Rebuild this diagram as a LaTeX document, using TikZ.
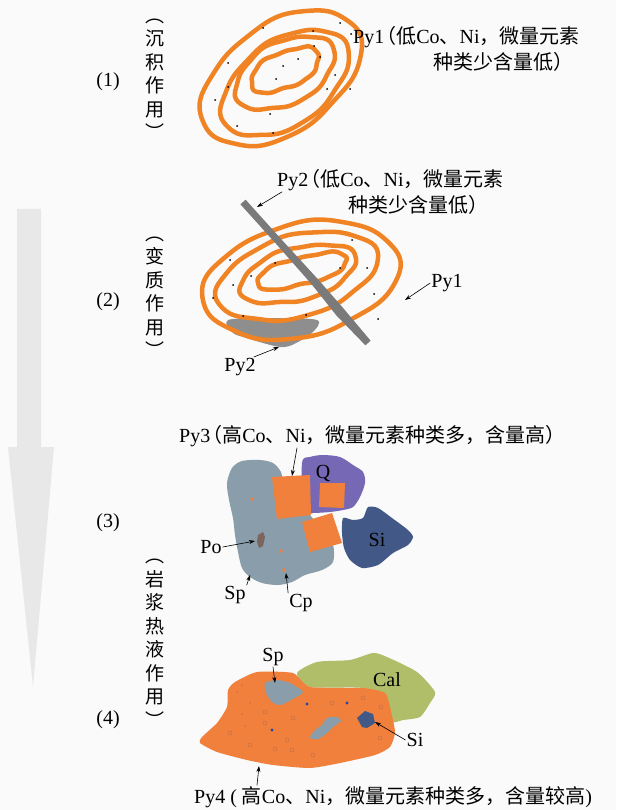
\documentclass[tikz,border=0pt]{standalone}
\usepackage{fontspec}
\setmainfont{Liberation Serif}
\newfontfamily\cjk{Noto Sans CJK SC}
\newcommand{\zh}[1]{{\cjk #1}}
\newcommand{\lp}{\zh{\kern-0.4em（}}
\usetikzlibrary{arrows.meta,calc}
\definecolor{bgcol}{RGB}{250,250,250}
\definecolor{flowgray}{RGB}{232,232,232}
\definecolor{ringorange}{RGB}{240,132,36}
\definecolor{veingray}{RGB}{122,122,122}
\definecolor{rimgray}{RGB}{142,142,142}
\definecolor{pyorange}{RGB}{240,128,60}
\definecolor{spgray}{RGB}{137,158,170}
\definecolor{qpurple}{RGB}{118,104,180}
\definecolor{siblue}{RGB}{66,88,135}
\definecolor{pobrown}{RGB}{125,100,95}
\definecolor{calgreen}{RGB}{176,190,106}
\definecolor{dotblue}{RGB}{40,70,160}
\definecolor{holebrown}{RGB}{196,112,74}
\begin{document}
\begin{tikzpicture}[x=1pt,y=-1pt,>={Stealth[length=6pt,width=4pt]},line join=round,line cap=round,
	every node/.style={inner sep=1pt,font=\fontsize{20}{22}\selectfont},
	ring/.style={draw=ringorange,line width=4.5pt},
	pnt/.style={->,line width=0.6pt},
	vtext/.style={font=\cjk\fontsize{19}{23.5}\selectfont,align=center,inner sep=0pt},
	declare function={wob(\t,\p)=1.2*sin(4*\t+\p)+0.6*sin(9*\t+2*\p);}]
	\fill[bgcol] (0,0) rectangle (616,810);
	\useasboundingbox (0,0) rectangle (616,810);
	% big arrow on the left
	\fill[flowgray] (17,209) -- (41,209) -- (41,447) -- (54,447) -- (33,687) -- (8,447) -- (17,447) -- cycle;
	\path
	(257,207) coordinate (vtop)
	(405,300) coordinate (rimR)
	(279,347) coordinate (rimB)
	(292,476) coordinate (sqT)
	(255,541) coordinate (poT)
	(250,575) coordinate (spT)
	(286,573) coordinate (cpT)
	(275,683) coordinate (sp4T)
	(375,722) coordinate (si4T)
	(259,766) coordinate (py4T);
	% (1) sedimentary rings
	\foreach \cx/\cy/\rx/\ry/\rot/\ph in {281/78/90/54/35/0,285/83/72/42/35/60,285/73/54/31/28/120,285/70/37/18/25/200}
	\draw[ring,shift={(\cx,\cy)},rotate=\rot] plot[smooth cycle,domain=0:355,samples=72] ({(\rx+wob(\x,\ph))*cos(\x)},{(\ry+wob(\x,\ph))*sin(\x)});
	\foreach \p in {(263,28),(340,23),(313,31),(351,34),(314,46),(320,57),(298,59),(283,66),(228,63),(276,79),(335,75),(228,87),(327,89),(350,89),(215,100),(270,114),(237,126),(273,133)}
	\fill \p circle (1pt);
	% (2) metamorphic overprint
	\fill[rimgray] plot[smooth cycle,tension=0.5] coordinates {(228,320) (270,318) (317,320) (312,333) (292,345) (280,347) (263,343) (247,338) (233,333)};
	\foreach \cx/\cy/\rx/\ry/\rot/\ph in {301/280/100/56/13/30,297/276/83/40/16/90,298/274/60/26/16/150,302/271/47/14/15/240}
	\draw[ring,shift={(\cx,\cy)},rotate=\rot] plot[smooth cycle,domain=0:355,samples=72] ({(\rx+wob(\x,\ph))*cos(\x)},{(\ry+wob(\x,\ph))*sin(\x)});
	\foreach \p in {(352,240),(230,260),(275,263),(340,268),(367,268),(251,276),(233,285),(213,298),(374,294),(243,316),(306,315),(378,319)}
	\fill \p circle (1pt);
	\fill[veingray] (245.6,199.7) -- (282.6,240.7) -- (318,279.3) -- (343.7,308.7) -- (370.6,340.7)
	-- (365.4,345.3) -- (336.3,315.3) -- (312,284.7) -- (277.4,245.3) -- (240.4,204.3) -- cycle;
	% (3) magmatic-hydrothermal assemblage
	\fill[spgray] plot[smooth cycle] coordinates {(227,483) (232,468) (242,461) (260,460) (273,463) (281,472) (284,485) (296,500) (310,515) (322,530) (333,545) (333,562) (322,570) (305,575) (292,582) (278,585) (262,583) (250,577) (242,568) (238,552) (235,535) (233,518) (229,500)};
	\fill[qpurple] plot[smooth cycle,tension=0.5] coordinates {(302,463) (310,457) (323,455) (340,457) (353,465) (363,472) (365,483) (360,497) (353,507) (343,510) (330,512) (313,513) (303,512)};
	\fill[siblue] plot[smooth cycle,tension=0.4] coordinates {(343,518) (353,520) (363,518) (368,507) (378,508) (392,518) (408,530) (413,537) (408,545) (393,553) (378,565) (362,568) (350,560) (344,548) (342,533)};
	\fill[pyorange] (272,477) -- (310,475) -- (311,515) -- (277,519) -- cycle;
	\fill[pyorange] (320,483) -- (345,483) -- (344,508) -- (319,507) -- cycle;
	\fill[pyorange] (302,522) -- (332,513) -- (342,543) -- (310,552) -- cycle;
	\fill[pobrown] (258,535) -- (263,532) -- (265,537) -- (263,546) -- (259,548) -- (257,542) -- cycle;
	\foreach \p in {(252,499),(281,551),(284,570)}
	\fill[pyorange] \p circle (1.8pt);
	% (4) late pyrite with calcite
	\fill[calgreen] plot[smooth cycle,tension=0.4] coordinates {(297,673) (317,662) (350,660) (373,653) (387,657) (417,672) (435,692) (430,703) (420,717) (403,720) (390,722) (385,700) (363,688) (310,687)};
	\fill[pyorange] plot[smooth cycle,tension=0.35] coordinates {(228,690) (235,682) (257,672) (293,673) (310,687) (363,688) (385,693) (390,707) (395,732) (390,747) (375,755) (340,763) (310,768) (273,765) (247,760) (217,752) (200,743) (202,737) (217,723) (227,707)};
	\fill[spgray] plot[smooth cycle,tension=0.4] coordinates {(265,683) (277,680) (290,683) (303,692) (293,699) (280,705) (272,702) (266,693)};
	\fill[spgray] plot[smooth cycle,tension=0.4] coordinates {(327,718) (337,717) (341,721) (333,727) (327,733) (318,739) (310,738) (314,731) (322,725)};
	\fill[siblue] (357,718) -- (365,711) -- (373,714) -- (375,723) -- (367,728) -- (362,727) -- cycle;
	\foreach \p in {(307,704),(347,703),(272,730)}
	\fill[dotblue] \p circle (1.6pt);
	\foreach \p in {(332,703),(363,698),(381,707),(265,712),(293,718),(265,723),(230,733),(250,745),(275,749),(287,740),(292,750),(313,755),(380,738)}
	\draw[holebrown,line width=0.5pt] \p circle (2pt);
	\foreach \p in {(237,692),(242,685),(250,703),(242,714),(245,726)}
	\fill[holebrown] \p circle (0.8pt);
	% stage numbers and vertical captions
	\node (n1) at (108,82) {(1)};
	\node (n2) at (108,302) {(2)};
	\node (n3) at (108,523) {(3)};
	\node (n4) at (108,720) {(4)};
	\node[vtext] (v1) at (155,79) {︵\\沉\\积\\作\\用\\︶};
	\node[vtext] (v2) at (155,297) {︵\\变\\质\\作\\用\\︶};
	\node[vtext] (v3) at (155,643) {︵\\岩\\浆\\热\\液\\作\\用\\︶};
	% labels
	\node[anchor=west] (py1a) at (352,37) {Py1\lp\zh{低}Co\zh{、}Ni\zh{，微量元素}};
	\node[anchor=west] (py1b) at (432,62) {\zh{种类少含量低）}};
	\node[anchor=west] (py2a) at (276,180) {Py2\lp\zh{低}Co\zh{、}Ni\zh{，微量元素}};
	\node[anchor=west] (py2b) at (347,205) {\zh{种类少含量低）}};
	\node (py1c) at (447,283) {Py1};
	\node (py2c) at (240,367) {Py2};
	\node[anchor=west] (py3) at (178,436) {Py3\lp\zh{高}Co\zh{、}Ni\zh{，微量元素种类多，含量高）}};
	\node (q) at (323,473) {Q};
	\node (si3) at (377,540) {Si};
	\node (po) at (211,547) {Po};
	\node (sp3) at (235,595) {Sp};
	\node (cp) at (301,603) {Cp};
	\node (sp4) at (273,657) {Sp};
	\node (cal) at (387,680) {Cal};
	\node (si4) at (415,740) {Si};
	\node[anchor=west] (py4) at (193,797) {Py4 ( \zh{高}Co\zh{、}Ni\zh{，微量元素种类多，含量较高})};
	% pointers
	\draw[pnt] ([xshift=6pt]py2a.south west) -- (vtop);
	\draw[pnt] (py1c.west) -- (rimR);
	\draw[pnt] ([xshift=-3pt]py2c.north east) -- (rimB);
	\draw[pnt] ($(py3.south west)+(119,0)$) -- (sqT);
	\draw[pnt] (po.east) -- (poT);
	\draw[pnt] (sp3.north east) -- (spT);
	\draw[pnt] (cp.north west) -- (cpT);
	\draw[pnt] (sp4.south) -- (sp4T);
	\draw[pnt] (si4.west) -- (si4T);
	\draw[pnt] ($(py4.north west)+(64,0)$) -- (py4T);
\end{tikzpicture}
\end{document}
